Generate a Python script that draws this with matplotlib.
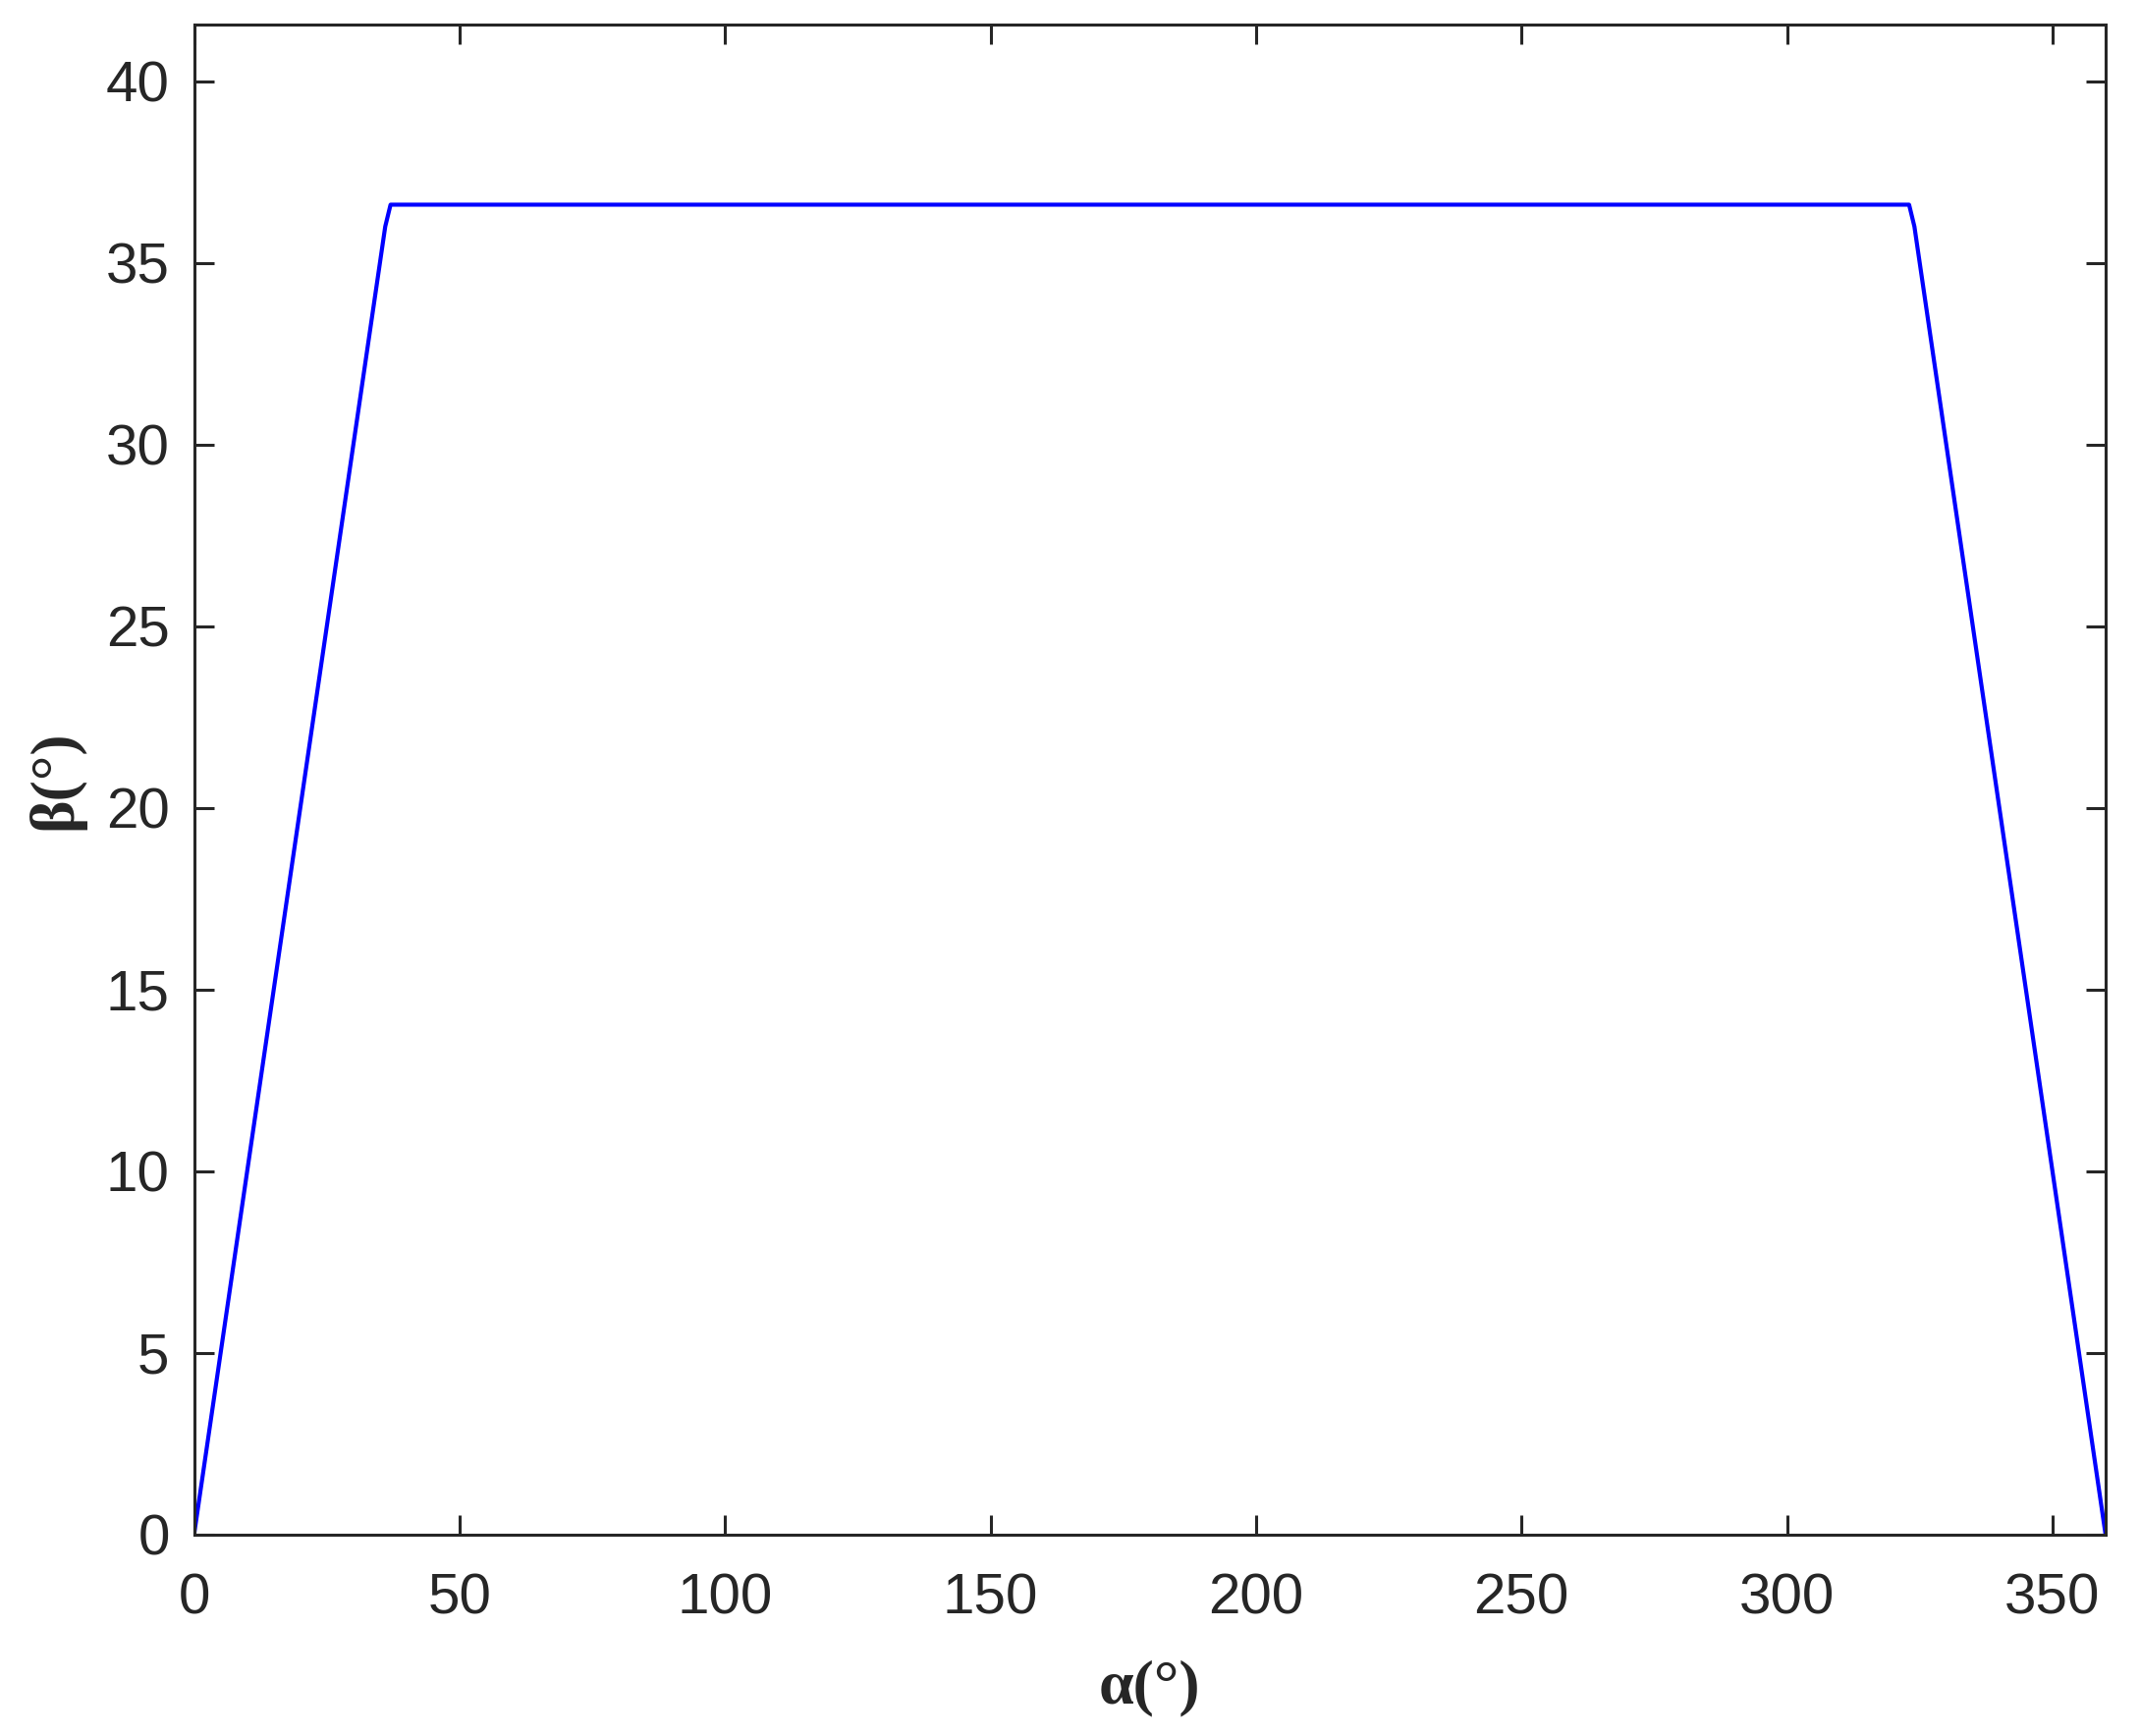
import matplotlib
matplotlib.use("Agg")
import matplotlib.pyplot as plt

# Data
alpha = [0, 36, 37, 323, 324, 360]
beta = [0, 36, 36.6, 36.6, 36, 0]
xticks = [0, 50, 100, 150, 200, 250, 300, 350]
yticks = [0, 5, 10, 15, 20, 25, 30, 35, 40]

DPI = 200
fig = plt.figure(figsize=(2179 / DPI, 1768 / DPI), dpi=DPI)
ax = fig.add_axes([0.0907, 0.1161, 0.9839 - 0.0907, 0.9859 - 0.1161])

dark = "#262626"
ax.plot(alpha, beta, color="#0000ff", lw=1.5)

ax.set_xlim(0, 360)
ax.set_ylim(0, 41.56)
ax.set_xticks(xticks)
ax.set_yticks(yticks)

for s in ax.spines.values():
    s.set_color(dark)
    s.set_linewidth(1.1)

ax.tick_params(axis="both", which="both", direction="in", top=True, right=True,
               length=7.2, width=1.1, color=dark, labelcolor=dark,
               labelsize=21)
ax.tick_params(axis="x", pad=14)
ax.tick_params(axis="y", pad=9)
for lab in ax.get_xticklabels() + ax.get_yticklabels():
    lab.set_fontfamily(["Liberation Sans", "DejaVu Sans"])

ax.set_xlabel("α(°)", fontsize=23, fontweight="bold",
              family=["Liberation Serif", "DejaVu Serif"], color=dark)
ax.set_ylabel("β(°)", fontsize=23, fontweight="bold",
              family=["Liberation Serif", "DejaVu Serif"], color=dark)
ax.xaxis.set_label_coords(0.5, -0.083)
ax.yaxis.set_label_coords(-0.057, 0.5)

fig.savefig("out.png", dpi=DPI, facecolor="white")
